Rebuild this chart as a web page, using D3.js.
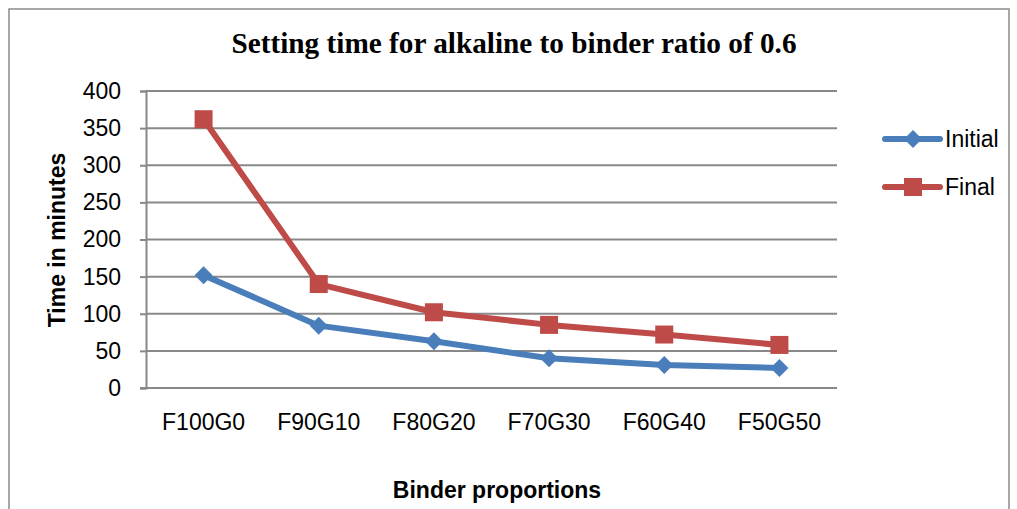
<!DOCTYPE html>
<html>
<head>
<meta charset="utf-8">
<script src="https://cdn.jsdelivr.net/npm/d3@7"></script>
<style>
  html, body { margin: 0; padding: 0; background: #fff; }
  svg { display: block; }
</style>
</head>
<body>
<svg id="chart" width="1017" height="509"></svg>
<script>
// Setting time (minutes) per binder proportion
const categories = ["F100G0", "F90G10", "F80G20", "F70G30", "F60G40", "F50G50"];
const initialTimes = [152, 84, 63, 40, 31, 27];
const finalTimes = [362, 140, 102, 85, 72, 58];
const yTicks = [0, 50, 100, 150, 200, 250, 300, 350, 400];
const seriesNames = ["Initial", "Final"];

const series = [
  { name: seriesNames[0], values: initialTimes, color: "#4a7ebb", marker: "diamond" },
  { name: seriesNames[1], values: finalTimes, color: "#be4b48", marker: "square" }
];

const svg = d3.select("#chart");
const plot = { left: 146, right: 837, top: 91, bottom: 388 };

// outer frame
svg.append("rect")
  .attr("x", 9).attr("y", 9)
  .attr("width", 1000).attr("height", 520)
  .attr("fill", "#fff").attr("stroke", "#8a8a8a").attr("stroke-width", 1.5);

const x = d3.scaleBand().domain(categories).range([plot.left, plot.right]);
const y = d3.scaleLinear().domain([0, 400]).range([plot.bottom, plot.top]);

const sansFont = "'Liberation Sans', Arial, sans-serif";

// horizontal gridlines
svg.append("g")
  .selectAll("line")
  .data(yTicks.filter(t => t > 0))
  .join("line")
  .attr("x1", plot.left).attr("x2", plot.right)
  .attr("y1", d => y(d)).attr("y2", d => y(d))
  .attr("stroke", "#888").attr("stroke-width", 2);

// y axis
const yAxis = svg.append("g")
  .attr("transform", `translate(${plot.left},0)`)
  .call(d3.axisLeft(y).tickValues(yTicks).tickSize(6).tickPadding(19));
yAxis.select(".domain").attr("stroke", "#888").attr("stroke-width", 2);
yAxis.selectAll(".tick line").attr("stroke", "#888").attr("stroke-width", 2);
yAxis.selectAll(".tick text")
  .attr("font-family", sansFont).attr("font-size", 23).attr("fill", "#000");

// x axis
const xAxis = svg.append("g")
  .attr("transform", `translate(0,${plot.bottom})`)
  .call(d3.axisBottom(x).tickSize(0).tickPadding(26));
xAxis.select(".domain").attr("stroke", "#888").attr("stroke-width", 2)
  .attr("d", `M${plot.left - 6},0H${plot.right}`);
xAxis.selectAll(".tick text")
  .attr("font-family", sansFont).attr("font-size", 23).attr("fill", "#000");

const cx = d => x(d) + x.bandwidth() / 2;

const line = d3.line()
  .x((d, i) => cx(categories[i]))
  .y(d => y(d));

const diamond = s => `M0,${-s}L${s},0L0,${s}L${-s},0Z`;

series.forEach(s => {
  svg.append("path")
    .datum(s.values)
    .attr("d", line)
    .attr("fill", "none")
    .attr("stroke", s.color)
    .attr("stroke-width", 6)
    .attr("stroke-linejoin", "round");

  const g = svg.append("g");
  if (s.marker === "diamond") {
    g.selectAll("path")
      .data(s.values)
      .join("path")
      .attr("d", diamond(9))
      .attr("transform", (d, i) => `translate(${cx(categories[i])},${y(d)})`)
      .attr("fill", s.color);
  } else {
    g.selectAll("rect")
      .data(s.values)
      .join("rect")
      .attr("x", (d, i) => cx(categories[i]) - 9)
      .attr("y", d => y(d) - 9)
      .attr("width", 18).attr("height", 18)
      .attr("fill", s.color);
  }
});

// legend
const legend = svg.append("g");
series.forEach((s, i) => {
  const ly = 139 + i * 48;
  legend.append("line")
    .attr("x1", 885).attr("x2", 940).attr("y1", ly).attr("y2", ly)
    .attr("stroke", s.color).attr("stroke-width", 6).attr("stroke-linecap", "round");
  if (s.marker === "diamond") {
    legend.append("path").attr("d", diamond(9))
      .attr("transform", `translate(913,${ly})`).attr("fill", s.color);
  } else {
    legend.append("rect").attr("x", 904).attr("y", ly - 9)
      .attr("width", 18).attr("height", 18).attr("fill", s.color);
  }
  legend.append("text")
    .attr("x", 945).attr("y", ly)
    .attr("dy", "0.35em")
    .attr("font-family", sansFont).attr("font-size", 23).attr("fill", "#000")
    .text(s.name);
});

// title
svg.append("text")
  .attr("x", 514).attr("y", 53)
  .attr("text-anchor", "middle")
  .attr("font-family", "'Liberation Serif', 'Times New Roman', serif")
  .attr("font-weight", "bold").attr("font-size", 30)
  .attr("textLength", 565).attr("lengthAdjust", "spacingAndGlyphs")
  .text("Setting time for alkaline to binder ratio of 0.6");

// axis titles
svg.append("text")
  .attr("x", 497).attr("y", 498)
  .attr("text-anchor", "middle")
  .attr("font-family", sansFont).attr("font-weight", "bold").attr("font-size", 23)
  .text("Binder proportions");

svg.append("text")
  .attr("transform", "translate(65,240) rotate(-90)")
  .attr("text-anchor", "middle")
  .attr("font-family", sansFont).attr("font-weight", "bold").attr("font-size", 23)
  .text("Time in minutes");
</script>
</body>
</html>
